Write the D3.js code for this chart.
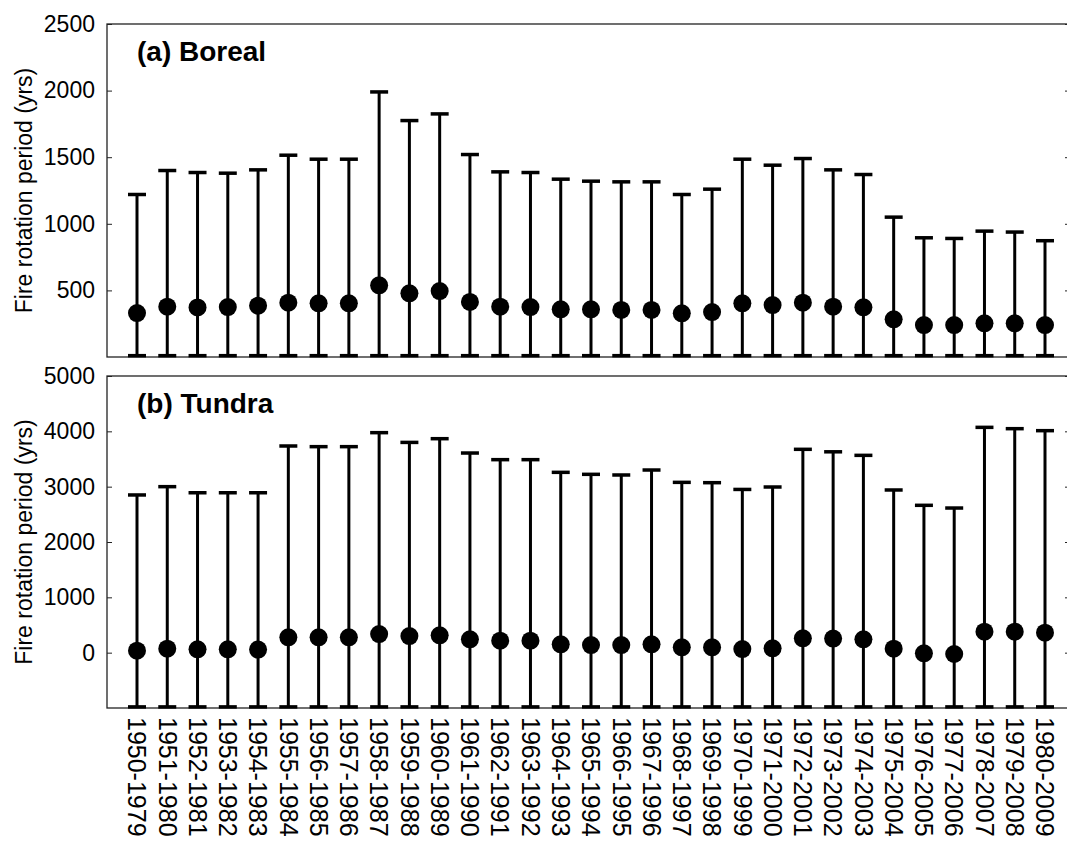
<!DOCTYPE html>
<html>
<head>
<meta charset="utf-8">
<script src="https://cdn.jsdelivr.net/npm/d3@7"></script>
<style>
  body { margin: 0; background: #fff; }
  text { font-family: "Liberation Sans", Arial, sans-serif; fill: #000; }
</style>
</head>
<body>
<div id="chart"></div>
<script>
// periods on the x axis
const periods = ["1950-1979","1951-1980","1952-1981","1953-1982","1954-1983","1955-1984","1956-1985","1957-1986",
  "1958-1987","1959-1988","1960-1989","1961-1990","1962-1991","1963-1992","1964-1993","1965-1994","1966-1995",
  "1967-1996","1968-1997","1969-1998","1970-1999","1971-2000","1972-2001","1973-2002","1974-2003","1975-2004",
  "1976-2005","1977-2006","1978-2007","1979-2008","1980-2009"];

// (a) boreal
const borealMean = [330,378,372,375,385,408,403,403,538,478,495,413,378,375,358,358,353,353,328,337,403,390,408,378,373,283,240,240,253,253,240];
const borealUpper = [1220,1400,1385,1380,1405,1515,1485,1485,1990,1775,1825,1520,1390,1385,1335,1320,1315,1315,1220,1260,1485,1440,1490,1405,1370,1050,895,890,945,938,873];
const borealLower = [10,10,10,10,10,10,10,10,10,10,10,10,10,10,10,10,10,10,10,10,10,10,10,10,10,10,10,10,10,10,10];
const borealTicks = [500,1000,1500,2000,2500];

// (b) tundra
const tundraMean = [35,72,60,60,55,277,277,277,337,301,313,241,217,217,150,138,138,150,96,96,66,78,259,255,241,72,-12,-24,379,379,361];
const tundraUpper = [2850,3000,2890,2890,2890,3735,3723,3723,3976,3800,3867,3608,3488,3488,3259,3223,3211,3301,3078,3072,2950,2994,3675,3630,3566,2940,2663,2614,4072,4048,4012];
const tundraLower = [-980,-980,-980,-980,-980,-980,-980,-980,-980,-980,-980,-980,-980,-980,-980,-980,-980,-980,-980,-980,-980,-980,-980,-980,-980,-980,-980,-980,-980,-980,-980];
const tundraTicks = [0,1000,2000,3000,4000,5000];

const W = 1067, H = 841;
const left = 107, right = 1070;

const svg = d3.select("#chart").append("svg")
    .attr("width", W)
    .attr("height", H);

// shared x scale
const x = d3.scalePoint()
    .domain(periods)
    .range([left + 30, right - 25]);

function panel(cfg) {
    const y = d3.scaleLinear()
        .domain(cfg.domain)
        .range([cfg.bottom, cfg.top]);

    const rows = periods.map((p, i) => ({p: p, m: cfg.mean[i], hi: cfg.upper[i], lo: cfg.lower[i]}));
    const g = svg.append("g");

    // box
    g.append("rect")
        .attr("x", left).attr("y", cfg.top)
        .attr("width", right - left).attr("height", cfg.bottom - cfg.top)
        .attr("fill", "none").attr("stroke", "#222").attr("stroke-width", 1.3);

    // left ticks (inward) + labels
    const yl = g.append("g").attr("transform", `translate(${left},0)`)
        .call(d3.axisLeft(y).tickValues(cfg.ticks).tickSize(-5).tickPadding(12).tickFormat(d3.format("d")));
    yl.select(".domain").remove();
    yl.selectAll("line").attr("stroke", "#222");
    yl.selectAll("text").style("font-size", "23px");

    // right ticks (inward)
    const yr = g.append("g").attr("transform", `translate(${right},0)`)
        .call(d3.axisRight(y).tickValues(cfg.ticks).tickSize(-5).tickFormat(""));
    yr.select(".domain").remove();
    yr.selectAll("line").attr("stroke", "#222");

    // error bar stems
    g.append("g").selectAll("line")
        .data(rows).join("line")
        .attr("x1", d => x(d.p)).attr("x2", d => x(d.p))
        .attr("y1", d => y(d.lo)).attr("y2", d => y(d.hi))
        .attr("stroke", "#000").attr("stroke-width", 3);

    // caps top and bottom
    ["hi", "lo"].forEach(k => {
        g.append("g").selectAll("line")
            .data(rows).join("line")
            .attr("x1", d => x(d.p) - 9).attr("x2", d => x(d.p) + 9)
            .attr("y1", d => y(d[k])).attr("y2", d => y(d[k]))
            .attr("stroke", "#000").attr("stroke-width", 3.5);
    });

    // means
    g.append("g").selectAll("circle")
        .data(rows).join("circle")
        .attr("cx", d => x(d.p)).attr("cy", d => y(d.m))
        .attr("r", 9).attr("fill", "#000");

    // panel title
    g.append("text")
        .attr("x", left + 30).attr("y", cfg.top + 37)
        .style("font-size", "28px").style("font-weight", "bold")
        .text(cfg.title);

    // y label
    g.append("text")
        .attr("transform", `translate(24,${(cfg.top + cfg.bottom) / 2}) rotate(-90)`)
        .attr("text-anchor", "middle").attr("dy", "0.35em")
        .style("font-size", "23px")
        .text("Fire rotation period (yrs)");
}

panel({top: 24, bottom: 357, domain: [0, 2500], ticks: borealTicks,
       mean: borealMean, upper: borealUpper, lower: borealLower, title: "(a) Boreal"});
panel({top: 376, bottom: 708, domain: [-1000, 5000], ticks: tundraTicks,
       mean: tundraMean, upper: tundraUpper, lower: tundraLower, title: "(b) Tundra"});

// rotated period labels under the lower panel
svg.append("g").selectAll("text")
    .data(periods).join("text")
    .attr("transform", d => `translate(${x(d)},717) rotate(90)`)
    .attr("text-anchor", "start").attr("dy", "0.35em")
    .style("font-size", "25px")
    .text(d => d);
</script>
</body>
</html>
